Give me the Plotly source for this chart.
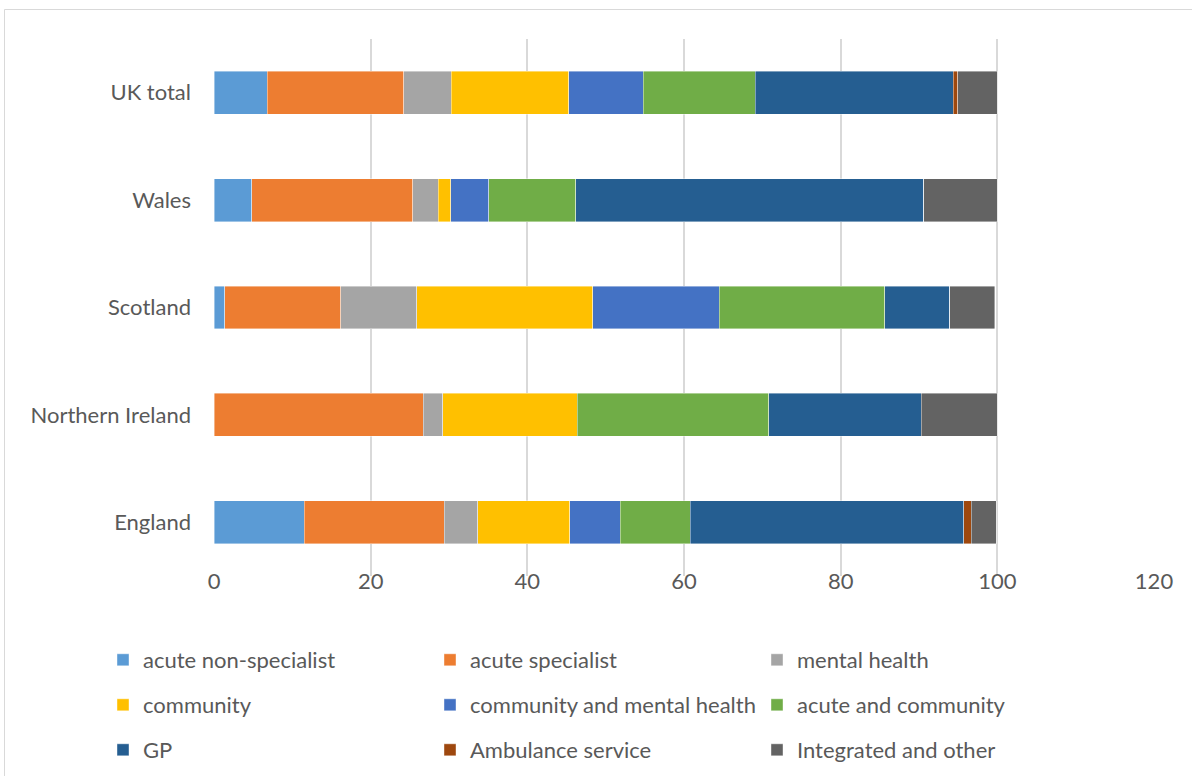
import plotly.graph_objects as go

# Share of providers by type, per nation (percent)
nations = ["England", "Northern Ireland", "Scotland", "Wales", "UK total"]

acute_non_specialist = [11.55, 0.0, 1.4, 4.8, 6.8]
acute_specialist = [17.85, 26.7, 14.8, 20.6, 17.4]
mental_health = [4.3, 2.5, 9.7, 3.2, 6.1]
community = [11.7, 17.15, 22.45, 1.6, 15.0]
community_and_mental_health = [6.45, 0.0, 16.15, 4.85, 9.5]
acute_and_community = [8.95, 24.45, 21.1, 11.15, 14.3]
gp = [34.9, 19.5, 8.3, 44.4, 25.3]
ambulance_service = [1.0, 0.0, 0.0, 0.0, 0.55]
integrated_and_other = [3.15, 9.7, 5.8, 9.4, 5.05]

x_ticks = [0, 20, 40, 60, 80, 100, 120]

series = [
    ("acute non-specialist", acute_non_specialist, "#5B9BD5", "legend"),
    ("acute specialist", acute_specialist, "#ED7D31", "legend"),
    ("mental health", mental_health, "#A5A5A5", "legend"),
    ("community", community, "#FFC000", "legend2"),
    ("community and mental health", community_and_mental_health, "#4472C4", "legend2"),
    ("acute and community", acute_and_community, "#70AD47", "legend2"),
    ("GP", gp, "#255E91", "legend3"),
    ("Ambulance service", ambulance_service, "#9E480E", "legend3"),
    ("Integrated and other", integrated_and_other, "#636363", "legend3"),
]

W, H = 1192, 776
L, R, T, B = 214, 38, 39, 200
PW, PH = W - L - R, H - T - B

FONT = "Lato"
GREY = "#595959"
AXIS_SIZE = 22
LEGEND_SIZE = 22

fig = go.Figure()
for name, vals, color, leg in series:
    fig.add_trace(go.Bar(
        y=nations, x=vals, name=name, orientation="h",
        marker=dict(color=color, line=dict(color="rgba(255,255,255,0.55)", width=0.75)),
        legend=leg,
    ))


def px_to_paper_x(p):
    return (p - L) / PW


def px_to_paper_y(p):
    return (H - B - p) / PH


legend_common = dict(
    orientation="h", xanchor="left", yanchor="middle",
    x=px_to_paper_x(103),
    traceorder="normal",
    entrywidth=282, entrywidthmode="pixels",
    font=dict(family=FONT, size=LEGEND_SIZE, color=GREY),
    bgcolor="rgba(0,0,0,0)", itemclick=False,
)

fig.update_layout(
    width=W, height=H,
    margin=dict(l=L, r=R, t=T, b=B, autoexpand=False),
    paper_bgcolor="white", plot_bgcolor="white",
    barmode="stack", bargap=0.6,
    font=dict(family=FONT, size=AXIS_SIZE, color=GREY),
    xaxis=dict(
        range=[0, 120], tickvals=x_ticks, ticktext=[str(v) for v in x_ticks],
        showgrid=True, gridcolor="#D9D9D9", gridwidth=1.5,
        zeroline=False, showline=False, ticks="",
        ticklabelstandoff=-10,
        tickfont=dict(family=FONT, size=AXIS_SIZE, color=GREY),
    ),
    yaxis=dict(
        categoryorder="array", categoryarray=nations,
        showgrid=False, zeroline=False, showline=False, ticks="",
        ticklabelstandoff=22,
        tickfont=dict(family=FONT, size=AXIS_SIZE, color=GREY),
    ),
    legend=dict(legend_common, y=px_to_paper_y(660)),
    legend2=dict(legend_common, y=px_to_paper_y(705)),
    legend3=dict(legend_common, y=px_to_paper_y(750)),
    showlegend=True,
)

# Chart area outline
fig.add_shape(
    type="rect", xref="paper", yref="paper",
    x0=px_to_paper_x(4.5), x1=px_to_paper_x(W + 10),
    y0=px_to_paper_y(H + 10), y1=px_to_paper_y(9.5),
    line=dict(color="#D9D9D9", width=1), fillcolor="rgba(0,0,0,0)",
    layer="below",
)

fig.write_html("out.html")
